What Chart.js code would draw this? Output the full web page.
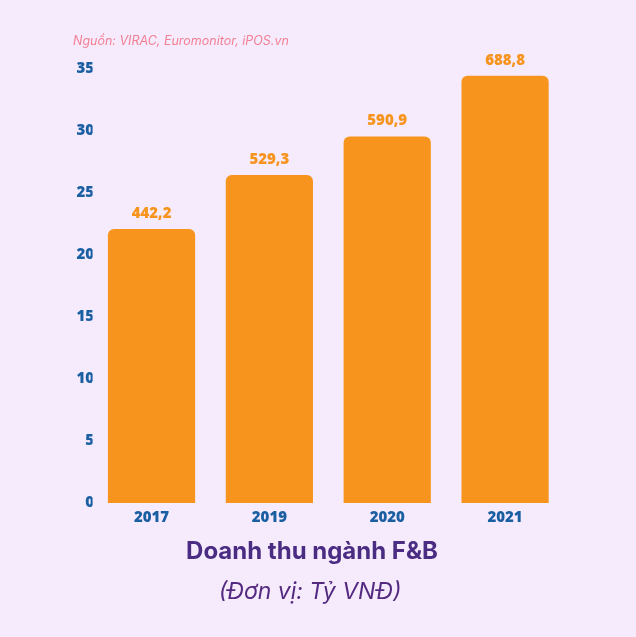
<!DOCTYPE html>
<html><head><meta charset="utf-8">
<script src="https://cdn.jsdelivr.net/npm/chart.js@4"></script>
<style>html,body{margin:0;padding:0;background:#f6ebfc;}#wrap{width:636px;height:637px;}</style>
</head><body><div id="wrap"><canvas id="c" width="636" height="637"></canvas></div>
<script>
const categories = ['2017','2019','2020','2021'];
const barHeights = [22.1, 26.45, 29.55, 34.45];
const valueLabels = ['442,2','529,3','590,9','688,8'];
const yTicks = [0,5,10,15,20,25,30,35];
const sourceText = 'Nguồn: VIRAC, Euromonitor, iPOS.vn';
const titleText = 'Doanh thu ngành F&B';
const subtitleText = '(Đơn vị: Tỷ VNĐ)';

const textPlugin = {
  id: 'texts',
  afterDatasetsDraw(chart) {
    const ctx = chart.ctx;
    const meta = chart.getDatasetMeta(0);
    ctx.save();
    ctx.fillStyle = '#f7941d';
    ctx.font = '800 15px "Open Sans"';
    ctx.textAlign = 'center';
    ctx.textBaseline = 'bottom';
    meta.data.forEach((bar, i) => {
      ctx.fillText(valueLabels[i], bar.x, bar.y - 8);
    });
    ctx.font = 'italic 12.5px Inter';
    ctx.fillStyle = '#f27f92';
    ctx.textAlign = 'left';
    ctx.textBaseline = 'middle';
    ctx.fillText(sourceText, 73, 41);
    ctx.textAlign = 'center';
    ctx.font = '700 24px Inter';
    ctx.fillStyle = '#4b2c83';
    ctx.fillText(titleText, 312, 552);
    ctx.font = 'italic 400 23px Inter';
    ctx.fillStyle = '#542a80';
    ctx.fillText(subtitleText, 310, 592);
    ctx.restore();
  }
};

new Chart(document.getElementById('c'), {
  type: 'bar',
  data: {
    labels: categories,
    datasets: [{
      data: barHeights,
      backgroundColor: '#f7941d',
      borderRadius: {topLeft: 6, topRight: 6, bottomLeft: 0, bottomRight: 0},
      borderSkipped: false,
      categoryPercentage: 1,
      barPercentage: 0.74
    }]
  },
  options: {
    responsive: false,
    animation: false,
    devicePixelRatio: 1,
    layout: { padding: { top: 69, right: 72, bottom: 104, left: 72 } },
    plugins: { legend: { display: false }, tooltip: { enabled: false } },
    scales: {
      x: {
        grid: { display: false, drawTicks: false },
        border: { display: false },
        ticks: { color: '#1b5fa3', font: { family: 'Open Sans', weight: '800', size: 15 }, padding: 6 }
      },
      y: {
        min: 0, max: 35,
        afterBuildTicks(axis) { axis.ticks = yTicks.map(v => ({ value: v })); },
        afterFit(axis) { axis.width = 20.6; },
        grid: { display: false, drawTicks: false },
        border: { display: false },
        ticks: { color: '#1b5fa3', font: { family: 'Open Sans', weight: '800', size: 15 }, padding: -1.5 }
      }
    }
  },
  plugins: [textPlugin]
});
</script></body></html>
